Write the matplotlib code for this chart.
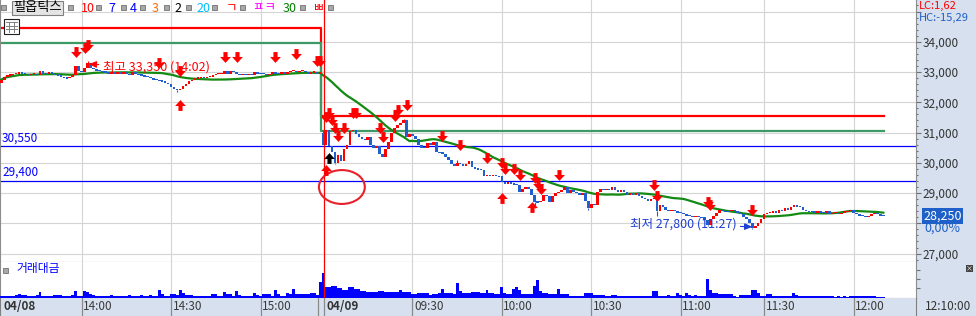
import matplotlib
matplotlib.use('Agg')
import matplotlib.pyplot as plt
import matplotlib.patches as mpatches
import matplotlib.transforms as mtransforms
from matplotlib.path import Path
from matplotlib.ticker import MultipleLocator
import numpy as np
import pandas as pd

plt.rcParams['font.family'] = ['Noto Sans CJK KR', 'DejaVu Sans']

stock_name = '필옵틱스'

# 1분봉 종가 04/08 13:33 ~ 15:30
day1_open = 32650
day1_close = [
    32750, 32850, 32900, 32900, 32950, 32950, 33000, 32950, 32950, 32900,
    32950, 32950, 32900, 33050, 32950, 32950, 33000, 32950, 32900, 32900,
    32850, 32800, 32800, 32850, 32900, 33200, 33050, 33000, 33150, 33300,
    33150, 33100, 33050, 33050, 33000, 33000, 32950, 33000, 32950, 33000,
    32950, 33000, 32950, 32900, 33000, 32950, 32900, 32900, 32850, 32850,
    32800, 32750, 32750, 32700, 32700, 32650, 32600, 32500, 32450, 32400,
    32450, 32550, 32600, 32700, 32750, 32800, 32800, 32850, 32800, 32850,
    32850, 32900, 32950, 32950, 32950, 33050, 32950, 33050, 33000, 32950,
    32900, 32950, 32900, 32950, 32900, 33000, 32950, 32950, 32950, 32900,
    32950, 33000, 32950, 32950, 33000, 32950, 33000, 33050, 33050, 33000,
    33050, 33050, 33000, 32950, 33000, 33000, 32950, 33000,
]

# 04/09 09:00 ~ 12:10
day2_open = 31000
day2_close = [
    30600, 31100, 30550, 30350, 30000, 30250, 30050, 30450, 30600, 31050,
    31100, 30950, 30850, 30800, 30750, 30850, 30600, 30500, 30550, 30300,
    30200, 30450, 30700, 31000, 31150, 31250, 31300, 31400, 30850, 30950,
    30900, 30800, 30600, 30500, 30500, 30650, 30600, 30700, 30350, 30350,
    30300, 30200, 30100, 29950, 29900, 30000, 29950, 29900, 29950, 30050,
    29850, 29800, 29800, 29750, 29550, 29600, 29550, 29600, 29550, 29550,
    29350, 29300, 29350, 29300, 29300, 29250, 29050, 29150, 29200, 29150,
    28950, 28700, 28700, 28750, 28950, 28900, 28700, 28900, 29000, 29050,
    29100, 29200, 29000, 29100, 29050, 29000, 28950, 29000, 28750, 28500,
    28650, 28600, 29050, 29150, 29100, 29150, 29100, 29200, 29100, 29050,
    29100, 29050, 28950, 29000, 28950, 29000, 28900, 28850, 28800, 28750,
    28800, 28850, 28400, 28600, 28550, 28450, 28400, 28450, 28400, 28350,
    28350, 28300, 28250, 28250, 28200, 28250, 28200, 28200, 28100, 27950,
    28150, 28250, 28350, 28450, 28400, 28400, 28400, 28450, 28400, 28350,
    28300, 28200, 28150, 28000, 27850, 27900, 28000, 28150, 28300, 28350,
    28350, 28400, 28350, 28450, 28400, 28500, 28450, 28550, 28600, 28550,
    28550, 28450, 28400, 28400, 28400, 28350, 28400, 28350, 28350, 28400,
    28300, 28350, 28350, 28300, 28350, 28400, 28400, 28450, 28350, 28300,
    28250, 28250, 28200, 28250, 28300, 28350, 28300, 28250, 28250,
]

# 꼬리 (봉 번호: 가격)
wick_high = {29: 33350, 108: 31100, 135: 31450, 153: 30100}
wick_low = {59: 32350, 112: 29950, 179: 28500, 197: 28450, 220: 28250, 237: 27900, 252: 27800}

# 거래대금
vol_day1 = [
    15, 15, 15, 15, 15, 20, 30, 20, 20, 15,
    15, 15, 20, 50, 15, 15, 15, 15, 20, 20,
    20, 15, 15, 15, 20, 60, 15, 15, 60, 55,
    30, 25, 15, 15, 15, 15, 15, 25, 15, 15,
    15, 15, 15, 25, 15, 15, 15, 20, 15, 15,
    20, 15, 15, 70, 30, 15, 15, 35, 30, 20,
    70, 40, 20, 25, 25, 15, 15, 15, 15, 15,
    15, 35, 35, 15, 15, 50, 30, 30, 15, 60,
    20, 15, 15, 15, 15, 40, 20, 15, 30, 30,
    30, 15, 70, 30, 15, 15, 40, 30, 80, 30,
    30, 30, 30, 30, 40, 40, 20, 150,
]
vol_day2 = [
    245, 100, 100, 110, 110, 90, 90, 70, 70, 105,
    105, 80, 80, 60, 60, 50, 50, 50, 50, 60,
    60, 50, 50, 50, 50, 50, 70, 50, 50, 50,
    30, 30, 40, 40, 40, 40, 20, 30, 30, 40,
    80, 40, 40, 40, 30, 140, 60, 40, 40, 40,
    50, 50, 50, 40, 40, 70, 45, 45, 30, 30,
    100, 45, 30, 30, 80, 105, 70, 30, 30, 30,
    30, 110, 170, 60, 45, 45, 35, 35, 35, 80,
    35, 35, 35, 15, 15, 15, 15, 15, 45, 40,
    40, 25, 25, 25, 25, 15, 15, 25, 25, 15,
    15, 15, 15, 15, 15, 15, 15, 15, 15, 15,
    15, 60, 60, 15, 15, 15, 25, 15, 15, 40,
    25, 15, 40, 25, 15, 25, 15, 15, 15, 180,
    70, 45, 45, 30, 30, 30, 35, 35, 15, 7,
    25, 25, 25, 25, 70, 70, 40, 15, 15, 35,
    35, 15, 15, 15, 15, 15, 15, 15, 45, 20,
    15, 15, 15, 15, 15, 15, 15, 15, 15, 10,
    10, 10, 7, 10, 7, 10, 7, 10, 15, 15,
    15, 15, 15, 15, 15, 15, 7, 7, 7,
]

# 신호 화살표
sell_idx = [25, 28, 29, 53, 60, 75, 79, 92, 99, 106, 107,
            109, 110, 111, 112, 113, 115, 118, 119, 127, 128, 132, 133, 136,
            148, 154, 163, 168, 169, 172, 174, 179, 180, 181, 187,
            219, 220, 237, 238, 252]
sell_price = [33650, 33800, 33900, 33300, 33050, 33500, 33500, 33500, 33600, 33350, 33350,
              31500, 31650, 31400, 31150, 30900, 31150, 31650, 31650, 31150, 30850, 31550, 31750, 31900,
              30900, 30600, 30150, 30000, 29800, 29800, 29600, 29500, 29300, 29150, 29600,
              29250, 28900, 28700, 28600, 28450]
buy_idx = [60, 109, 168, 178]
buy_price = [31900, 29750, 28850, 28550]
black_idx = [110]
black_price = [30150]

# 기준선
red_level = [34450, 31550]
green_level = [33950, 31050]
blue_levels = [30550, 29400]

tick_pos = [27, 57, 87, 138, 168, 198, 228, 256, 286]
tick_lab = ['14:00', '14:30', '15:00', '09:30', '10:00', '10:30', '11:00', '11:30', '12:00']

# ---------------------------------------------------------------
closes = np.array(day1_close + day2_close, dtype=float)
n1 = len(day1_close)
n = len(closes)
idx = np.arange(n)
opens = np.r_[day1_open, closes[:-1]]
opens[n1] = day2_open
volumes = np.array(vol_day1 + vol_day2, dtype=float)
assert len(volumes) == n
ma30 = pd.Series(closes).rolling(30, min_periods=1).mean()

UP, DN = '#FF0000', '#1F5FD0'
colors = []
prev = UP
for o, c in zip(opens, closes):
    if c > o:
        prev = UP
    elif c < o:
        prev = DN
    colors.append(prev)

W, H = 976, 316
PX = 0.72
fig = plt.figure(figsize=(W / 100, H / 100), dpi=100, facecolor='#D6E0EE')


def fx(p):
    return p / W


def fy(p):
    return 1 - p / H


ax = fig.add_axes([0, fy(261.5), fx(916), 1 - fy(261.5)], facecolor='white')
axv = fig.add_axes([0, fy(297.5), fx(916), 36 / H], facecolor='white', sharex=ax)
axt = fig.add_axes([0, 0, fx(916), fy(297.5)], facecolor='#D6E0EE', sharex=ax)

xmin, xmax = -0.42, 306.96
ax.set_xlim(xmin, xmax)
ax.set_ylim(26738, 35381)
day_line = n1 + 0.4

# 격자
for p in range(27000, 35001, 1000):
    ax.axhline(p, color='#D4D4D4', lw=0.8, zorder=0)
for t in tick_pos:
    ax.axvline(t, color='#D4D4D4', lw=0.8, zorder=0)
    axv.axvline(t, color='#D4D4D4', lw=0.8, zorder=0)

# 기준선
for lv in blue_levels:
    ax.axhline(lv, color='#0000FF', lw=0.9, zorder=1)
    ax.annotate(f'{lv:,}', xy=(0, lv), xycoords=mtransforms.blended_transform_factory(ax.transAxes, ax.transData),
                xytext=(2 * PX, 2 * PX), textcoords='offset points', ha='left', va='bottom',
                color='#0000FF', fontsize=8.5)
step = n1 - 0.7
ax.plot([xmin, step, step, n - 0.7], [red_level[0], red_level[0], red_level[1], red_level[1]],
        color='#FF0000', lw=1.6, zorder=2)
ax.plot([xmin, step, step, n - 0.7], [green_level[0], green_level[0], green_level[1], green_level[1]],
        color='#3C9A64', lw=1.6, zorder=2)

ax.plot(idx, ma30, color='#138A13', lw=1.6, zorder=3)

# 캔들
body = np.abs(closes - opens)
bottom = np.where(body > 0, np.minimum(opens, closes), closes - 22)
ax.bar(idx, np.maximum(body, 45), bottom=bottom, width=0.88, color=colors, linewidth=0, zorder=4)
for k, v in wick_high.items():
    ax.vlines(k, max(opens[k], closes[k]), v, color=colors[k], lw=0.8, zorder=4)
for k, v in wick_low.items():
    ax.vlines(k, v, min(opens[k], closes[k]), color=colors[k], lw=0.8, zorder=4)

ax.axvline(day_line, color='#FF0000', lw=0.9, zorder=5)
axv.axvline(day_line, color='#FF0000', lw=0.9, zorder=5)

# 화살표
dn_path = Path([(-0.38, 1), (0.38, 1), (0.38, 0.1), (1, 0.1), (0, -1), (-1, 0.1), (-0.38, 0.1), (-0.38, 1)],
               [Path.MOVETO] + [Path.LINETO] * 6 + [Path.CLOSEPOLY])
up_path = Path(dn_path.vertices * [1, -1], dn_path.codes)
ax.plot(sell_idx, sell_price, ls='none', marker=dn_path, ms=7.8, mfc='#FF0000', mew=0, zorder=7)
ax.plot(buy_idx, buy_price, ls='none', marker=up_path, ms=7.8, mfc='#FF0000', mew=0, zorder=7)
ax.plot(black_idx, black_price, ls='none', marker=up_path, ms=7.8, mfc='#000000', mew=0, zorder=7)

ax.add_patch(mpatches.Ellipse((n1 + 6.3, 29200), 15.4, 1120, fill=False, ec='#E8202A', lw=1.5, zorder=6))

# 최고 / 최저
hi_k = max(wick_high, key=lambda k: wick_high[k] if k < n1 else 0)
lo_k = min(wick_low, key=wick_low.get)
ax.annotate(f'최고 {wick_high[hi_k]:,} (14:02)', xy=(hi_k + 0.4, wick_high[hi_k]),
            xycoords=mtransforms.offset_copy(ax.transData, fig=fig, x=0, y=-2.7, units='dots'),
            xytext=(14 * PX, -2.7 * PX), textcoords='offset points', ha='left', va='center',
            color='#FF0000', fontsize=9, zorder=8,
            arrowprops=dict(arrowstyle='-|>,head_length=0.5,head_width=0.22', color='#FF0000', lw=0.8,
                            shrinkA=1, shrinkB=0))
ax.annotate(f'최저 {wick_low[lo_k]:,} (11:27)', xy=(lo_k, wick_low[lo_k]),
            xycoords=mtransforms.offset_copy(ax.transData, fig=fig, x=0, y=2.5, units='dots'),
            xytext=(-16 * PX, 2.5 * PX), textcoords='offset points', ha='right', va='center',
            color='#1E3FD0', fontsize=9, zorder=8,
            arrowprops=dict(arrowstyle='-|>,head_length=0.5,head_width=0.22', color='#1E3FD0', lw=0.8,
                            shrinkA=1, shrinkB=0))

# 오른쪽 가격축
ax.yaxis.tick_right()
ax.set_yticks(range(27000, 35001, 1000))
ax.set_yticklabels(['' if p in (28000, 35000) else f'{p:,}' for p in range(27000, 35001, 1000)])
ax.yaxis.set_minor_locator(MultipleLocator(200))
ax.tick_params(axis='y', which='major', length=5 * PX, width=0.8, color='#707070', pad=1,
               labelsize=8.5, labelcolor='#333333')
ax.tick_params(axis='y', which='minor', length=2.5 * PX, width=0.8, color='#707070')
ax.tick_params(axis='x', bottom=False, labelbottom=False)
ax.spines['top'].set_visible(False)
for s in ['left', 'right', 'bottom']:
    ax.spines[s].set_color('#8C8C8C')

last = closes[-1]
ytr = mtransforms.blended_transform_factory(ax.transAxes, ax.transData)
ax.annotate(f'{int(last):,}', xy=(1, last), xycoords=ytr, xytext=(7 * PX, 0), textcoords='offset points',
            ha='left', va='center', color='white', fontsize=9, annotation_clip=False,
            bbox=dict(boxstyle='square,pad=0.12', fc='#1E5FC8', ec='none'))
ax.annotate('0,00%', xy=(1, last), xycoords=ytr, xytext=(8 * PX, -12 * PX), textcoords='offset points',
            ha='left', va='center', color='#1E5FC8', fontsize=9, annotation_clip=False)

# 거래대금
axv.bar(idx, volumes, width=1.0, color='#0000FF', linewidth=0, zorder=3)
axv.set_ylim(0, 355)
axv.yaxis.tick_right()
axv.set_yticks([90, 180, 270])
axv.set_yticklabels([])
axv.tick_params(axis='y', length=4 * PX, width=0.8, color='#707070')
axv.tick_params(axis='x', bottom=False, labelbottom=False)
axv.spines['top'].set_visible(False)
for s in ['left', 'right', 'bottom']:
    axv.spines[s].set_color('#8C8C8C')
axv.text(0.018, 0.8, '거래대금', transform=axv.transAxes, color='#0000FF', fontsize=8.5, va='center')
fig.patches.append(mpatches.Rectangle((fx(3), fy(272.5)), fx(5), 5 / H, transform=fig.transFigure,
                                      fc='#A8A8A8', ec='#707070', lw=0.6))
fig.patches.append(mpatches.Rectangle((fx(966), fy(272)), fx(7), 7 / H, transform=fig.transFigure,
                                      fc='#444444', ec='none'))
fig.text(fx(969.5), fy(268.5), '×', color='white', fontsize=5, ha='center', va='center')

# 시간축
axt.set_ylim(0, 1)
axt.tick_params(axis='both', bottom=False, left=False, labelbottom=False, labelleft=False)
for s in ['top', 'bottom']:
    axt.spines[s].set_visible(False)
for s in ['left', 'right']:
    axt.spines[s].set_color('#808080')
for t in tick_pos + [n1 - 1.6, day_line]:
    axt.axvline(t, color='#8A8A8A', lw=0.9)
for t, lab in zip(tick_pos, tick_lab):
    axt.annotate(lab, xy=(t, 0.5), xytext=(1.5 * PX, 0), textcoords='offset points',
                 ha='left', va='center', fontsize=8.5, color='#3A3A3A')
axt.annotate('04/08', xy=(xmin, 0.5), xytext=(3 * PX, 0), textcoords='offset points',
             ha='left', va='center', fontsize=8.5, color='#333333', fontweight='bold')
axt.annotate('04/09', xy=(day_line, 0.5), xytext=(2 * PX, 0), textcoords='offset points',
             ha='left', va='center', fontsize=8.5, color='#333333', fontweight='bold')
fig.text(fx(925), fy(307), '12:10:00', fontsize=8.5, color='#333333', va='center', ha='left')

# 상단 범례
fig.text(fx(919), fy(5.5), 'LC:1,62', color='#FF0000', fontsize=8, va='center')
fig.text(fx(919), fy(18), 'HC:-15,29', color='#1E5FC8', fontsize=8, va='center')

fig.patches.append(mpatches.Rectangle((fx(12), fy(15)), fx(51), 14 / H, transform=fig.transFigure,
                                      fc='#E4E4E4', ec='#808080', lw=0.8, zorder=10))
fig.text(fx(37.5), fy(8), stock_name, fontsize=9.5, ha='center', va='center', color='black', zorder=11)
for sx in [3, 70, 98, 123, 142, 166, 188, 214, 242, 302, 330]:
    fig.patches.append(mpatches.Rectangle((fx(sx - 2.5), fy(10)), fx(5), 5 / H, transform=fig.transFigure,
                                          fc='#A8A8A8', ec='#707070', lw=0.6, zorder=10))
legend_items = [(81, '10', '#FF0000'), (108, '7', '#0000FF'), (130, '4', '#0000FF'),
                (152, '3', '#FF6600'), (174, '2', '#000000'), (196, '20', '#00BFFF'),
                (226, 'ㄱ', '#FF0000'), (253, 'ㅍㅋ', '#FF00FF'), (283, '30', '#008000'),
                (313, 'ㅃ', '#FF0000')]
for lx, txt, col in legend_items:
    fig.text(fx(lx), fy(8), txt, color=col, fontsize=9, ha='left', va='center', zorder=11)

# 표 아이콘
fig.patches.append(mpatches.Rectangle((fx(4), fy(34)), fx(15), 15 / H, transform=fig.transFigure,
                                      fc='white', ec='#202020', lw=0.8, zorder=10))
for gx in [9, 14]:
    fig.lines.append(plt.Line2D([fx(gx), fx(gx)], [fy(22), fy(32)], transform=fig.transFigure,
                                color='#808080', lw=0.7, zorder=11))
for gy in [22, 25.5, 29]:
    fig.lines.append(plt.Line2D([fx(6), fx(17)], [fy(gy), fy(gy)], transform=fig.transFigure,
                                color='#808080', lw=0.7, zorder=11))

fig.savefig('out.png', dpi=100)
